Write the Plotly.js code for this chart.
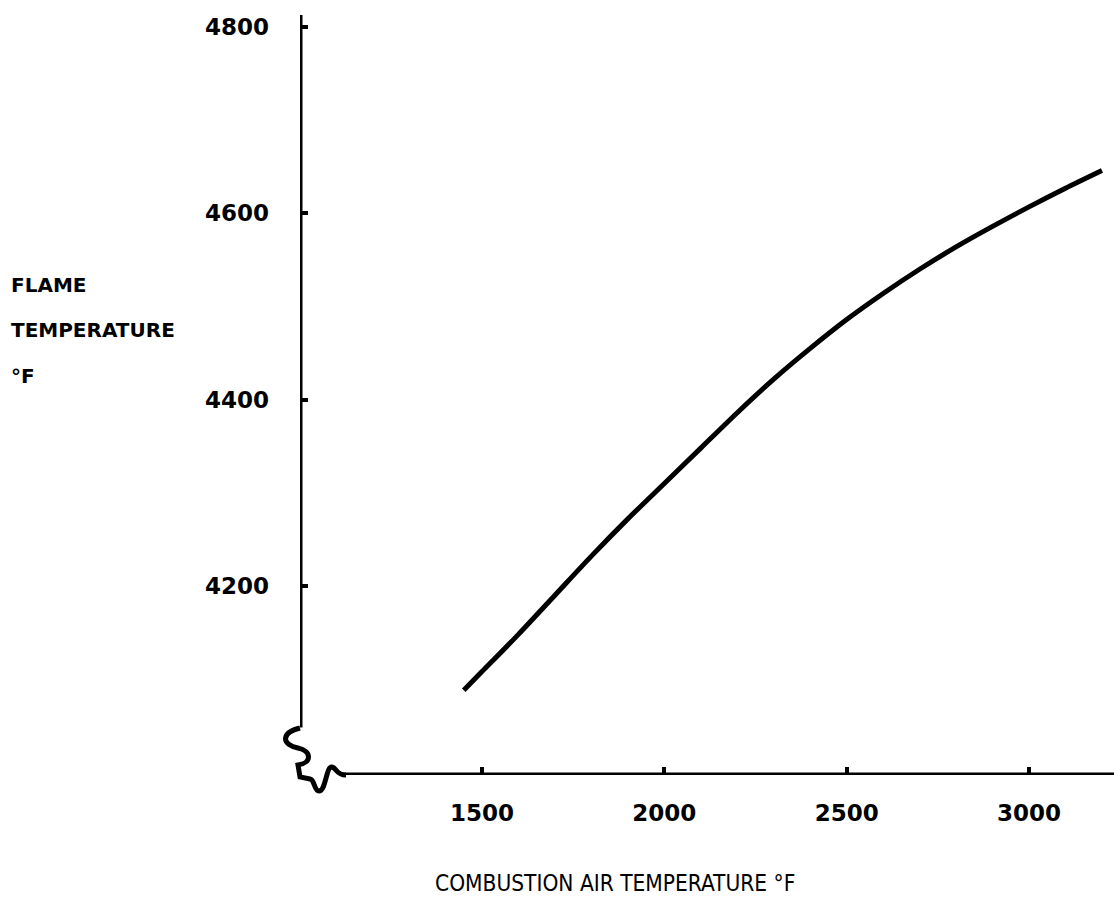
<!DOCTYPE html>
<html>
<head>
<meta charset="utf-8">
<script src="https://cdn.plot.ly/plotly-3.0.1.min.js"></script>
<style>
  html, body { margin: 0; padding: 0; background: #fff; }
  #chart { width: 1114px; height: 912px; }
</style>
</head>
<body>
<div id="chart"></div>
<script>
// Combustion air temperature (°F)
const airTemp = [1450, 1500, 1600, 1700, 1800, 1900, 2000, 2100, 2200, 2300, 2400, 2500, 2600, 2700, 2800, 2900, 3000, 3100, 3200];
// Flame temperature (°F)
const flameTemp = [4088, 4108, 4148, 4190, 4232, 4272, 4310, 4348, 4386, 4422, 4455, 4486, 4514, 4540, 4564, 4586, 4607, 4627, 4646];

const xTicks = [1500, 2000, 2500, 3000];
const yTicks = [4200, 4400, 4600, 4800];
const yTitleLines = ["FLAME", "TEMPERATURE", "°F"];
const xTitle = "COMBUSTION AIR TEMPERATURE °F";

const X_RANGE = [1001, 3233];
const Y_RANGE = [3997, 4813];

const FONT = '"DejaVu Sans", "Liberation Sans", sans-serif';
const FONT_COND = '"DejaVu Sans Condensed", "DejaVu Sans", sans-serif';

const trace = {
  x: airTemp, y: flameTemp, type: 'scatter', mode: 'lines',
  line: { color: '#000', width: 5, shape: 'spline', smoothing: 0.8 },
  hoverinfo: 'skip'
};

const annotations = yTitleLines.map((t, i) => ({
  text: t, xref: 'paper', yref: 'paper',
  x: -0.357, y: 0.645 - i * 0.06, xanchor: 'left', yanchor: 'middle',
  showarrow: false, align: 'left',
  font: { family: FONT, size: 20, color: '#000', weight: 'bold' }
}));
annotations.push({
  text: xTitle, xref: 'paper', yref: 'paper',
  x: 0.387, y: -0.142, xanchor: 'center', yanchor: 'middle',
  showarrow: false,
  font: { family: FONT_COND, size: 22.5, color: '#000' }
});

const shapes = [
  // vertical axis line (above the break)
  { type: 'line', xref: 'x', yref: 'y', x0: X_RANGE[0], x1: X_RANGE[0], y0: 4048, y1: Y_RANGE[1],
    line: { color: '#000', width: 5 } },
  // horizontal axis line (right of the break)
  { type: 'line', xref: 'x', yref: 'y', x0: 1116, x1: X_RANGE[1], y0: Y_RANGE[0], y1: Y_RANGE[0],
    line: { color: '#000', width: 5 } },
  // axis break squiggles at the origin
  { type: 'path', xref: 'paper', yref: 'paper', xsizemode: 'pixel', ysizemode: 'pixel',
    xanchor: 0, yanchor: 0,
    path: 'M 0 47 C -20 42, -18 30, -2 27 C 12 24, 12 12, -2 10 L 0 -2 L 10 -4 C 15 -5, 14 -16, 19 -16 C 26 -16, 26 9, 32 8 C 37 7, 36 0, 46 0',
    line: { color: '#000', width: 5 } }
];

const layout = {
  width: 1114, height: 912,
  margin: { l: 300, r: 0, t: 15, b: 137, pad: 0 },
  paper_bgcolor: '#fff', plot_bgcolor: '#fff',
  showlegend: false,
  xaxis: {
    range: X_RANGE, tickvals: xTicks, ticktext: xTicks.map(String),
    showgrid: false, zeroline: false, showline: false,
    ticks: 'inside', ticklen: 8, tickwidth: 4, tickcolor: '#000',
    ticklabelstandoff: 22,
    tickfont: { family: FONT, size: 23, color: '#000', weight: 'bold' }
  },
  yaxis: {
    range: Y_RANGE, tickvals: yTicks, ticktext: yTicks.map(String),
    showgrid: false, zeroline: false, showline: false,
    ticks: 'inside', ticklen: 8, tickwidth: 4, tickcolor: '#000',
    ticklabelstandoff: 30,
    tickfont: { family: FONT, size: 23, color: '#000', weight: 'bold' }
  },
  annotations: annotations,
  shapes: shapes
};

Plotly.newPlot('chart', [trace], layout, { displayModeBar: false, staticPlot: true });
</script>
</body>
</html>
